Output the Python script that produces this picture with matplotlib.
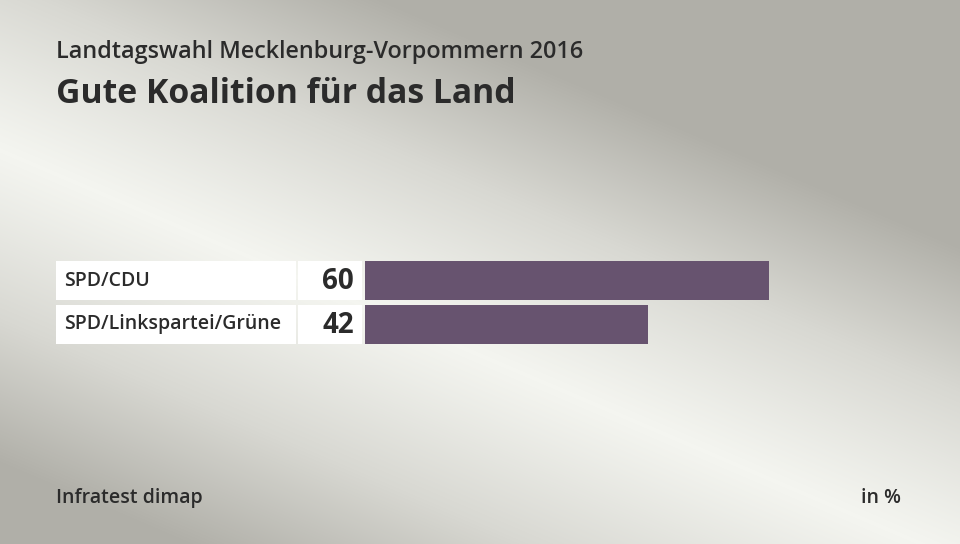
import numpy as np
import matplotlib
matplotlib.use("Agg")
import matplotlib.pyplot as plt
from matplotlib.patches import Rectangle
from matplotlib.colors import LinearSegmentedColormap

# ---- data ----
categories = ["SPD/CDU", "SPD/Linkspartei/Grüne"]
values = [60, 42]
subtitle = "Landtagswahl Mecklenburg-Vorpommern 2016"
title = "Gute Koalition für das Land"
source = "Infratest dimap"
unit = "in %"

W, H = 960, 544
BAR_COLOR = "#67536f"
TEXT = "#2b2b2b"
FONT = ["Open Sans", "DejaVu Sans"]

fig = plt.figure(figsize=(W / 100, H / 100), dpi=100)

# ---- background gradient ----
bg = fig.add_axes([0, 0, 1, 1])
yy, xx = np.mgrid[0:H, 0:W]
# light band running from upper-left to lower-right
p0 = np.array([0.0, 150.0]); p1 = np.array([960.0, 560.0])
d = p1 - p0; d /= np.linalg.norm(d)
n = np.array([-d[1], d[0]])
dist = np.abs((xx - p0[0]) * n[0] + (yy - p0[1]) * n[1])
t = np.clip(dist / 290.0, 0, 1) ** 1.1
cmap = LinearSegmentedColormap.from_list("bg", ["#f4f5f0", "#d8d8d2", "#b0afa8"])
bg.imshow(t, cmap=cmap, extent=[0, W, H, 0], aspect="auto", vmin=0, vmax=1)
bg.set_xlim(0, W); bg.set_ylim(H, 0)
bg.axis("off")

# ---- bar axes ----
scale = (769 - 365) / 60.0  # px per unit
left_px, right_px = 56, 960
x0 = (left_px - 365) / scale
x1 = (right_px - 365) / scale
pitch = 44
top_px = 258.5
ax_h = pitch * len(categories)
ax = fig.add_axes([left_px / W, 1 - (top_px + ax_h) / H, (right_px - left_px) / W, ax_h / H])
ax.set_xlim(x0, x1)
ax.set_ylim(len(categories) - 0.5, -0.5)
ax.axis("off")
ax.patch.set_alpha(0)

ypos = np.arange(len(categories))
bh = 39 / pitch
ax.barh(ypos, values, height=bh, left=0, color=BAR_COLOR, edgecolor="none")

label_w = (296 - 56) / scale
val_left = (298 - 365) / scale
val_w = (362 - 298) / scale
for i, (c, v) in enumerate(zip(categories, values)):
    ax.add_patch(Rectangle((x0, i - bh / 2), label_w, bh, facecolor="white", edgecolor="none"))
    ax.add_patch(Rectangle((val_left, i - bh / 2), val_w, bh, facecolor="white", edgecolor="none"))
    ax.text(x0 + 8 / scale, i, c, ha="left", va="center", fontsize=14,
            fontweight="semibold", color=TEXT, family=FONT)
    ax.text((354 - 365) / scale, i + 0.03, f"{v}", ha="right", va="center", fontsize=20,
            fontweight="bold", color=TEXT, family=FONT)

# ---- titles ----
fig.text(56 / W, 1 - 58 / H, subtitle, ha="left", va="baseline", fontsize=16.8,
         fontweight="semibold", color=TEXT, family=FONT)
fig.text(56 / W, 1 - 103 / H, title, ha="left", va="baseline", fontsize=24.3,
         fontweight="bold", color=TEXT, family=FONT)
fig.text(56 / W, 1 - 503 / H, source, ha="left", va="baseline", fontsize=14,
         fontweight="semibold", color=TEXT, family=FONT)
fig.text(901 / W, 1 - 503 / H, unit, ha="right", va="baseline", fontsize=14,
         fontweight="semibold", color=TEXT, family=FONT)

fig.savefig("out.png", dpi=100)
